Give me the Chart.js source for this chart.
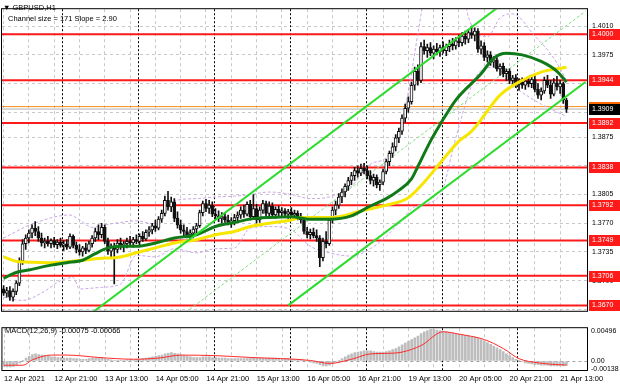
<!DOCTYPE html>
<html>
<head>
<meta charset="utf-8">
<script src="https://cdn.jsdelivr.net/npm/chart.js@4.4.1/dist/chart.umd.min.js"></script>
<style>
html, body { margin: 0; padding: 0; background: #fff; }
#wrap { position: relative; width: 620px; height: 388px; overflow: hidden; }
#main { position: absolute; left: 0; top: 0; }
#macd { position: absolute; left: 0; top: 320px; }
</style>
</head>
<body>
<div id="wrap">
  <canvas id="main" width="620" height="320"></canvas>
  <canvas id="macd" width="620" height="68"></canvas>
</div>
<script>
// GBPUSD H1, 12 Apr 05:00 .. 21 Apr 15:00 (bar index 0..178)
const opens = [
  1.3690,1.3685,1.3688,1.3680,1.3687,1.3697,1.3724,1.3745,1.3752,1.3758,
  1.3764,1.3760,1.3752,1.3746,1.3748,1.3745,1.3749,1.3744,1.3747,1.3743,
  1.3745,1.3741,1.3754,1.3743,1.3738,1.3735,1.3740,1.3737,1.3745,1.3752,
  1.3760,1.3756,1.3765,1.3748,1.3736,1.3742,1.3738,1.3746,1.3741,1.3745,
  1.3748,1.3746,1.3750,1.3748,1.3754,1.3751,1.3759,1.3762,1.3767,1.3764,
  1.3775,1.3782,1.3798,1.3790,1.3796,1.3776,1.3768,1.3762,1.3760,1.3756,
  1.3758,1.3763,1.3767,1.3783,1.3794,1.3788,1.3792,1.3781,1.3779,1.3776,
  1.3778,1.3774,1.3771,1.3773,1.3777,1.3780,1.3786,1.3781,1.3793,1.3778,
  1.3788,1.3774,1.3786,1.3794,1.3782,1.3791,1.3780,1.3787,1.3783,1.3785,
  1.3781,1.3784,1.3780,1.3782,1.3777,1.3774,1.3760,1.3756,1.3759,1.3755,
  1.3752,1.3728,1.3748,1.3745,1.3774,1.3786,1.3792,1.3802,1.3808,1.3815,
  1.3822,1.3828,1.3834,1.3831,1.3837,1.3834,1.3828,1.3822,1.3826,1.3817,
  1.3820,1.3833,1.3845,1.3855,1.3863,1.3874,1.3882,1.3898,1.3910,1.3918,
  1.3938,1.3955,1.3944,1.3985,1.3980,1.3984,1.3977,1.3982,1.3979,1.3984,
  1.3980,1.3985,1.3988,1.3986,1.3992,1.3990,1.3998,1.3994,1.4002,1.3999,
  1.4004,1.3982,1.3986,1.3972,1.3975,1.3966,1.3969,1.3958,1.3961,1.3952,
  1.3955,1.3944,1.3947,1.3939,1.3942,1.3938,1.3943,1.3940,1.3945,1.3933,
  1.3926,1.3931,1.3944,1.3938,1.3927,1.3941,1.3936,1.3940,1.3920
];
const highs = [
  1.3694,1.3692,1.3693,1.3690,1.3700,1.3728,1.3750,1.3756,1.3762,1.3768,
  1.3772,1.3766,1.3758,1.3752,1.3754,1.3751,1.3753,1.3750,1.3752,1.3749,
  1.3750,1.3757,1.3756,1.3747,1.3744,1.3742,1.3746,1.3748,1.3755,1.3764,
  1.3768,1.3770,1.3768,1.3752,1.3745,1.3746,1.3750,1.3752,1.3748,1.3752,
  1.3754,1.3753,1.3756,1.3757,1.3760,1.3762,1.3766,1.3770,1.3774,1.3778,
  1.3786,1.3803,1.3809,1.3802,1.3800,1.3784,1.3774,1.3768,1.3765,1.3762,
  1.3766,1.3770,1.3786,1.3797,1.3799,1.3798,1.3796,1.3788,1.3785,1.3783,
  1.3782,1.3780,1.3777,1.3781,1.3784,1.3790,1.3792,1.3796,1.3798,1.3805,
  1.3793,1.3790,1.3798,1.3797,1.3796,1.3795,1.3790,1.3791,1.3789,1.3788,
  1.3787,1.3789,1.3786,1.3785,1.3782,1.3776,1.3765,1.3763,1.3764,1.3762,
  1.3755,1.3752,1.3760,1.3778,1.3790,1.3797,1.3806,1.3812,1.3818,1.3826,
  1.3832,1.3838,1.3840,1.3842,1.3843,1.3840,1.3834,1.3830,1.3829,1.3823,
  1.3836,1.3848,1.3858,1.3868,1.3878,1.3886,1.3902,1.3915,1.3924,1.3942,
  1.3960,1.3963,1.3990,1.3993,1.3988,1.3990,1.3986,1.3989,1.3987,1.3991,
  1.3988,1.3993,1.3995,1.3996,1.3999,1.4002,1.4004,1.4006,1.4010,1.4008,
  1.4007,1.3992,1.3990,1.3980,1.3979,1.3973,1.3972,1.3964,1.3965,1.3958,
  1.3958,1.3950,1.3951,1.3946,1.3947,1.3946,1.3949,1.3948,1.3950,1.3940,
  1.3935,1.3948,1.3950,1.3944,1.3946,1.3949,1.3944,1.3942,1.3922
];
const lows = [
  1.3682,1.3680,1.3676,1.3675,1.3683,1.3694,1.3720,1.3738,1.3746,1.3752,
  1.3755,1.3748,1.3742,1.3740,1.3742,1.3740,1.3741,1.3739,1.3741,1.3737,
  1.3738,1.3739,1.3740,1.3734,1.3731,1.3730,1.3733,1.3735,1.3741,1.3748,
  1.3750,1.3752,1.3745,1.3732,1.3728,1.3696,1.3734,1.3738,1.3735,1.3740,
  1.3742,1.3741,1.3745,1.3744,1.3748,1.3749,1.3754,1.3757,1.3760,1.3762,
  1.3771,1.3779,1.3786,1.3784,1.3772,1.3764,1.3758,1.3754,1.3752,1.3750,
  1.3752,1.3758,1.3765,1.3779,1.3784,1.3782,1.3778,1.3775,1.3772,1.3770,
  1.3771,1.3768,1.3765,1.3768,1.3772,1.3776,1.3777,1.3779,1.3774,1.3775,
  1.3770,1.3771,1.3782,1.3778,1.3779,1.3777,1.3776,1.3779,1.3777,1.3778,
  1.3776,1.3778,1.3775,1.3774,1.3770,1.3757,1.3752,1.3751,1.3752,1.3748,
  1.3717,1.3724,1.3740,1.3743,1.3770,1.3780,1.3788,1.3795,1.3802,1.3810,
  1.3817,1.3822,1.3826,1.3828,1.3830,1.3824,1.3818,1.3815,1.3813,1.3810,
  1.3817,1.3830,1.3840,1.3850,1.3858,1.3868,1.3878,1.3893,1.3905,1.3915,
  1.3932,1.3938,1.3941,1.3976,1.3972,1.3974,1.3970,1.3975,1.3973,1.3977,
  1.3974,1.3979,1.3981,1.3982,1.3985,1.3986,1.3988,1.3990,1.3995,1.3992,
  1.3978,1.3976,1.3968,1.3966,1.3962,1.3960,1.3955,1.3950,1.3948,1.3944,
  1.3940,1.3936,1.3935,1.3932,1.3934,1.3933,1.3936,1.3935,1.3930,1.3922,
  1.3920,1.3928,1.3935,1.3922,1.3925,1.3932,1.3928,1.3916,1.3905
];
const closes = [
  1.3685,1.3688,1.3680,1.3687,1.3697,1.3724,1.3745,1.3752,1.3758,1.3764,
  1.3760,1.3752,1.3746,1.3748,1.3745,1.3749,1.3744,1.3747,1.3743,1.3745,
  1.3741,1.3754,1.3743,1.3738,1.3735,1.3740,1.3737,1.3745,1.3752,1.3760,
  1.3756,1.3765,1.3748,1.3736,1.3742,1.3738,1.3746,1.3741,1.3745,1.3748,
  1.3746,1.3750,1.3748,1.3754,1.3751,1.3759,1.3762,1.3767,1.3764,1.3775,
  1.3782,1.3798,1.3790,1.3796,1.3776,1.3768,1.3762,1.3760,1.3756,1.3758,
  1.3763,1.3767,1.3783,1.3794,1.3788,1.3792,1.3781,1.3779,1.3776,1.3778,
  1.3774,1.3771,1.3773,1.3777,1.3780,1.3786,1.3781,1.3793,1.3778,1.3788,
  1.3774,1.3786,1.3794,1.3782,1.3791,1.3780,1.3787,1.3783,1.3785,1.3781,
  1.3784,1.3780,1.3782,1.3777,1.3774,1.3760,1.3756,1.3759,1.3755,1.3752,
  1.3728,1.3748,1.3745,1.3774,1.3786,1.3792,1.3802,1.3808,1.3815,1.3822,
  1.3828,1.3834,1.3831,1.3837,1.3834,1.3828,1.3822,1.3826,1.3817,1.3820,
  1.3833,1.3845,1.3855,1.3863,1.3874,1.3882,1.3898,1.3910,1.3918,1.3938,
  1.3955,1.3944,1.3985,1.3980,1.3984,1.3977,1.3982,1.3979,1.3984,1.3980,
  1.3985,1.3988,1.3986,1.3992,1.3990,1.3998,1.3994,1.4002,1.3999,1.4004,
  1.3982,1.3986,1.3972,1.3975,1.3966,1.3969,1.3958,1.3961,1.3952,1.3955,
  1.3944,1.3947,1.3939,1.3942,1.3938,1.3943,1.3940,1.3945,1.3933,1.3926,
  1.3931,1.3944,1.3938,1.3927,1.3941,1.3936,1.3940,1.3920,1.3909
];

// indicator lines as [bar, value]
const maGreen = [
  [0,1.3703],[4,1.3710],[8,1.3713],[15,1.3719],[20,1.3722],[25,1.3725],[29,1.3733],
  [33,1.3740],[37,1.3742],[42,1.3742],[48,1.3746],[54,1.3752],[61,1.3756],[67,1.3766],
  [73,1.3771],[78,1.3775],[84,1.3777],[91,1.3778],[97,1.3775],[103,1.3775],[110,1.3779],
  [116,1.3791],[121,1.3800],[125,1.3810],[129,1.3824],[131,1.3839],[135,1.3870],
  [138,1.3890],[143,1.3920],[151,1.3952],[155,1.3971],[159,1.3977],[164,1.3975],
  [170,1.3967],[175,1.3955],[178,1.3942]
];
const maYellow = [
  [0,1.3729],[5,1.3723],[15,1.3722],[25,1.3725],[30,1.3727],[37,1.3729],[42,1.3734],
  [48,1.3740],[54,1.3746],[61,1.3750],[67,1.3756],[73,1.3760],[78,1.3766],[84,1.3770],
  [91,1.3774],[94,1.3777],[104,1.3777],[113,1.3785],[121,1.3792],[128,1.3801],
  [133,1.3820],[138,1.3843],[144,1.3870],[148,1.3882],[157,1.3926],[163,1.3942],
  [170,1.3954],[175,1.3958],[178,1.3960]
];
const bandUpper = [
  [0,1.3752],[9,1.3769],[21,1.3780],[24,1.3774],[28,1.3765],[32,1.3768],[37,1.3771],
  [42,1.3773],[48,1.3769],[54,1.3797],[61,1.3800],[67,1.3802],[73,1.3803],[78,1.3805],
  [84,1.3808],[91,1.3805],[97,1.3800],[103,1.3802],[110,1.3815],[116,1.3842],
  [121,1.3850],[125,1.3880],[128,1.3930],[131,1.4000],[134,1.4060],[144,1.4080],
  [147,1.4021],[153,1.3997],[157,1.4020],[161,1.4025],[168,1.3998],[174,1.3971],[178,1.3944]
];
const bandLower = [
  [0,1.3680],[6,1.3676],[12,1.3685],[18,1.3700],[22,1.3704],[24,1.3690],[31,1.3692],
  [37,1.3696],[42,1.3731],[48,1.3729],[54,1.3739],[61,1.3734],[67,1.3739],[73,1.3740],
  [78,1.3764],[84,1.3766],[91,1.3762],[97,1.3742],[103,1.3734],[110,1.3730],[116,1.3739],
  [121,1.3754],[125,1.3770],[130,1.3790],[138,1.3804],[143,1.3874],[149,1.3946],
  [155,1.3960],[162,1.3935],[170,1.3915],[178,1.3900]
];
const channelUpper = [[28,1.3661],[184,1.4113]];
const channelMid = [[55,1.3654],[184,1.4028]];
const channelLower = [[90,1.3670],[184,1.3942]];

const levels = [1.4000, 1.3944, 1.3892, 1.3838, 1.3792, 1.3749, 1.3706, 1.3670];
const orangeLevel = 1.3912;
const lastPrice = 1.3909;
const priceTicks = [1.3665, 1.3700, 1.3735, 1.3770, 1.3805, 1.3840, 1.3875, 1.3905, 1.3940, 1.3975, 1.4010];

const macdMain = [
  -0.0009,-0.0010,-0.0010,-0.0009,-0.0007,-0.0003,
  0.0001,0.0005,0.0008,
  0.0011,0.0012,0.0011,0.0010,0.0009,
  0.0008,0.0007,0.0007,0.0006,0.0006,0.0005,0.0005,0.0005,0.0004,0.0004,0.0003,0.0003,0.0003,0.0004,0.0005,0.0005,0.0006,
  0.0006,0.0004,0.0003,0.0002,0.0001,0.0001,0.0001,0.0001,0.0002,0.0002,0.0002,0.0003,0.0003,
  0.0004,0.0005,0.0006,0.0007,0.0008,0.0009,0.0010,0.0012,0.0013,0.0014,0.0013,0.0012,0.0010,
  0.0009,0.0008,0.0007,0.0006,0.0006,0.0006,0.0007,0.0007,0.0007,0.0006,0.0006,0.0005,0.0005,
  0.0005,0.0004,0.0004,0.0004,0.0004,0.0004,0.0004,0.0004,0.0005,0.0005,0.0005,0.0005,0.0005,0.0005,
  0.0005,0.0005,0.0005,0.0004,0.0004,0.0004,0.0004,0.0003,0.0003,0.0003,0.0002,0.0001,0.0000,
  -0.0002,-0.0003,-0.0004,-0.0006,-0.0008,
  -0.0008,-0.0007,-0.0005,-0.0002,0.0001,
  0.0004,0.0007,0.0010,0.0012,
  0.0014,0.0015,0.0016,0.0017,0.0017,0.0017,0.0016,0.0015,0.0015,0.0015,0.0016,0.0017,0.0019,
  0.0021,0.0024,0.0027,0.0030,0.0033,0.0036,0.0039,0.0042,
  0.0046,0.0049,0.0051,0.0053,0.0053,0.0052,
  0.0051,0.0050,0.0049,0.0048,0.0047,0.0046,
  0.0045,0.0044,0.0043,0.0042,0.0041,0.0040,0.0038,0.0036,0.0034,0.0031,0.0028,
  0.0025,0.0022,0.0019,0.0016,0.0012,0.0009,
  0.0006,0.0003,0.0001,-0.0001,
  -0.0003,-0.0004,-0.0005,-0.0006,-0.0006,-0.0007,-0.0007,-0.0007,-0.0008,-0.0008,-0.0008,-0.0008,-0.0008,-0.00075
];
const macdSignal = [
  [0,-0.0007],[6,-0.0007],[9,0.0002],[15,0.0010],[20,0.0010],[30,0.0006],[41,0.0003],
  [49,0.0005],[56,0.0010],[67,0.0009],[78,0.0006],[97,0.0001],[103,-0.0004],[110,0.0003],
  [116,0.0012],[122,0.0013],[126,0.0015],[132,0.0026],[139,0.0049],[144,0.0045],
  [152,0.0036],[158,0.0021],[163,0.0004],[169,-0.0003],[175,-0.0006],[178,-0.00066]
];
const macdTicks = [-0.00138, 0, 0.00496];

const gridBars = [0, 8, 16, 24, 32, 40, 48, 56, 64, 72, 80, 88, 96, 104, 112, 120, 128, 136, 144, 152, 160, 168, 176];
const timeTicks = [0, 16, 32, 48, 64, 80, 96, 112, 128, 144, 160, 176];
const timeLabels = ['12 Apr 2021', '12 Apr 21:00', '13 Apr 13:00', '14 Apr 05:00', '14 Apr 21:00', '15 Apr 13:00',
  '16 Apr 05:00', '16 Apr 21:00', '19 Apr 13:00', '20 Apr 05:00', '20 Apr 21:00', '21 Apr 13:00'];
const daySeparators = [19, 43, 67, 91, 115, 139, 163];

const X_MIN = -0.5, X_MAX = 184.5;
const FONT = "'Liberation Sans', Arial, sans-serif";
Chart.defaults.font.family = FONT;
Chart.defaults.color = '#000';

const pts = arr => arr.map(p => ({ x: p[0], y: p[1] }));
const gridColor = '#c8c8c8';

function drawSeparators(chart) {
  const { ctx, chartArea: a, scales: { x } } = chart;
  ctx.save();
  ctx.strokeStyle = '#000';
  ctx.lineWidth = 1;
  ctx.setLineDash([2, 2]);
  daySeparators.forEach(d => {
    const px = Math.round(x.getPixelForValue(d - 0.5)) + 0.5;
    ctx.beginPath();
    ctx.moveTo(px, a.top);
    ctx.lineTo(px, a.bottom);
    ctx.stroke();
  });
  ctx.restore();
}

function drawFrame(chart) {
  const { ctx, chartArea: a } = chart;
  ctx.save();
  ctx.strokeStyle = '#000';
  ctx.lineWidth = 1;
  ctx.strokeRect(a.left - 0.5, a.top - 0.5, a.right - a.left + 1, a.bottom - a.top + 1);
  ctx.restore();
}

function priceBox(chart, value, fill) {
  const { ctx, chartArea: a, scales: { y } } = chart;
  const py = Math.round(y.getPixelForValue(value));
  ctx.fillStyle = fill;
  ctx.fillRect(a.right + 2, py - 5, 620 - a.right - 2, 11);
  ctx.fillStyle = '#fff';
  ctx.font = '7px ' + FONT;
  ctx.textAlign = 'left';
  ctx.textBaseline = 'middle';
  ctx.fillText(value.toFixed(4), a.right + 5, py + 0.5);
}

const mainOverlay = {
  id: 'mainOverlay',
  beforeDatasetsDraw(chart) { drawSeparators(chart); },
  afterDraw(chart) {
    const { ctx } = chart;
    drawFrame(chart);
    ctx.save();
    levels.forEach(l => priceBox(chart, l, '#ff1a1a'));
    priceBox(chart, orangeLevel, '#ff6a00');
    priceBox(chart, lastPrice, '#000');
    ctx.fillStyle = '#000';
    ctx.font = '7.5px ' + FONT;
    ctx.textAlign = 'left';
    ctx.textBaseline = 'middle';
    ctx.fillText('\u25BC GBPUSD,H1', 3, 8);
    ctx.fillText('Channel size = 171 Slope = 2.90', 8, 19);
    ctx.restore();
  }
};

const lineSet = (data, color, width, order, dash) => ({
  type: 'line', data: pts(data), borderColor: color, borderWidth: width,
  borderDash: dash || [], pointRadius: 0, fill: false, order: order,
  cubicInterpolationMode: 'monotone'
});

const levelSets = levels.map(l => ({
  type: 'line', data: [{ x: X_MIN, y: l }, { x: X_MAX, y: l }],
  borderColor: '#ff1a1a', borderWidth: 2, pointRadius: 0, order: 20
}));

new Chart(document.getElementById('main'), {
  type: 'bar',
  data: {
    datasets: [
      ...levelSets,
      { type: 'line', data: [{ x: X_MIN, y: orangeLevel }, { x: X_MAX, y: orangeLevel }],
        borderColor: '#ff8c1a', borderWidth: 1, pointRadius: 0, order: 19 },
      { type: 'line', data: [{ x: X_MIN, y: lastPrice }, { x: X_MAX, y: lastPrice }],
        borderColor: '#b0b0b0', borderWidth: 1, pointRadius: 0, order: 19 },
      lineSet(bandUpper, '#c9a6e6', 1, 15, [3, 2]),
      lineSet(bandLower, '#c9a6e6', 1, 15, [3, 2]),
      lineSet(channelMid, '#7fe07f', 1, 14, [3, 2]),
      {
        type: 'bar', label: 'wick', grouped: false, order: 10,
        data: closes.map((c, i) => ({ x: i, y: [lows[i], highs[i]] })),
        backgroundColor: '#111', barThickness: 1, borderWidth: 0
      },
      {
        type: 'bar', label: 'body', grouped: false, order: 9,
        data: closes.map((c, i) => ({ x: i, y: [opens[i], c] })),
        backgroundColor: closes.map((c, i) => c >= opens[i] ? '#fff' : '#111'),
        borderColor: '#111', borderWidth: 1, borderSkipped: false,
        barThickness: 3, minBarLength: 1
      },
      lineSet(maYellow, '#f7e600', 3, 5),
      lineSet(maGreen, '#0f7a17', 3, 4),
      lineSet(channelUpper, '#2bdc2b', 2, 3),
      lineSet(channelLower, '#2bdc2b', 2, 3)
    ]
  },
  options: {
    responsive: false,
    animation: false,
    events: [],
    layout: { padding: { left: 2, top: 2, bottom: 2, right: 0 } },
    plugins: { legend: { display: false }, tooltip: { enabled: false } },
    scales: {
      x: {
        type: 'linear', min: X_MIN, max: X_MAX, offset: false,
        afterBuildTicks: s => { s.ticks = gridBars.map(v => ({ value: v })); },
        afterFit: s => { s.height = 0; },
        ticks: { display: false },
        grid: { color: gridColor, drawTicks: false, offset: false },
        border: { display: false, dash: [3, 3] }
      },
      y: {
        position: 'right', min: 1.36634, max: 1.40306,
        afterBuildTicks: s => { s.ticks = priceTicks.map(v => ({ value: v })); },
        afterFit: s => { s.width = 33; },
        ticks: { autoSkip: false, padding: 5, font: { size: 7 }, callback: v => v.toFixed(4) },
        grid: { color: gridColor, drawTicks: false },
        border: { display: false, dash: [3, 3] }
      }
    }
  },
  plugins: [mainOverlay]
});

const macdOverlay = {
  id: 'macdOverlay',
  beforeDatasetsDraw(chart) { drawSeparators(chart); },
  afterDraw(chart) {
    const { ctx } = chart;
    drawFrame(chart);
    ctx.save();
    ctx.fillStyle = '#000';
    ctx.font = '7.5px ' + FONT;
    ctx.textAlign = 'left';
    ctx.textBaseline = 'middle';
    ctx.fillText('MACD(12,26,9) -0.00075 -0.00066', 5, 11);
    ctx.restore();
  }
};

new Chart(document.getElementById('macd'), {
  type: 'bar',
  data: {
    datasets: [
      {
        type: 'bar', grouped: false, order: 5,
        data: macdMain.map((v, i) => ({ x: i, y: v })),
        backgroundColor: '#bdbdbd', barThickness: 2, borderWidth: 0
      },
      lineSet(macdSignal, '#ff2a2a', 1, 1)
    ]
  },
  options: {
    responsive: false,
    animation: false,
    events: [],
    layout: { padding: { left: 2, top: 3, bottom: 0, right: 0 } },
    plugins: { legend: { display: false }, tooltip: { enabled: false } },
    scales: {
      x: {
        type: 'linear', min: X_MIN, max: X_MAX, offset: false,
        afterBuildTicks: s => { s.ticks = gridBars.map(v => ({ value: v })); },
        afterFit: s => { s.height = 18; },
        ticks: {
          autoSkip: false, maxRotation: 0, minRotation: 0, align: 'start', padding: 4,
          font: { size: 7.5 },
          callback: v => { const k = timeTicks.indexOf(v); return k >= 0 ? timeLabels[k] : ''; }
        },
        grid: { color: gridColor, drawTicks: false, offset: false },
        border: { display: false, dash: [3, 3] }
      },
      y: {
        position: 'right', min: -0.0015, max: 0.0055,
        afterBuildTicks: s => { s.ticks = macdTicks.map(v => ({ value: v })); },
        afterFit: s => { s.width = 33; },
        ticks: {
          autoSkip: false, padding: 4, font: { size: 7 },
          callback: v => v === 0 ? '0.00' : v.toFixed(5)
        },
        grid: { color: ctx => ctx.tick && ctx.tick.value === 0 ? '#a0a0a0' : 'rgba(0,0,0,0)', drawTicks: false },
        border: { display: false, dash: [3, 3] }
      }
    }
  },
  plugins: [macdOverlay]
});
</script>
</body>
</html>
